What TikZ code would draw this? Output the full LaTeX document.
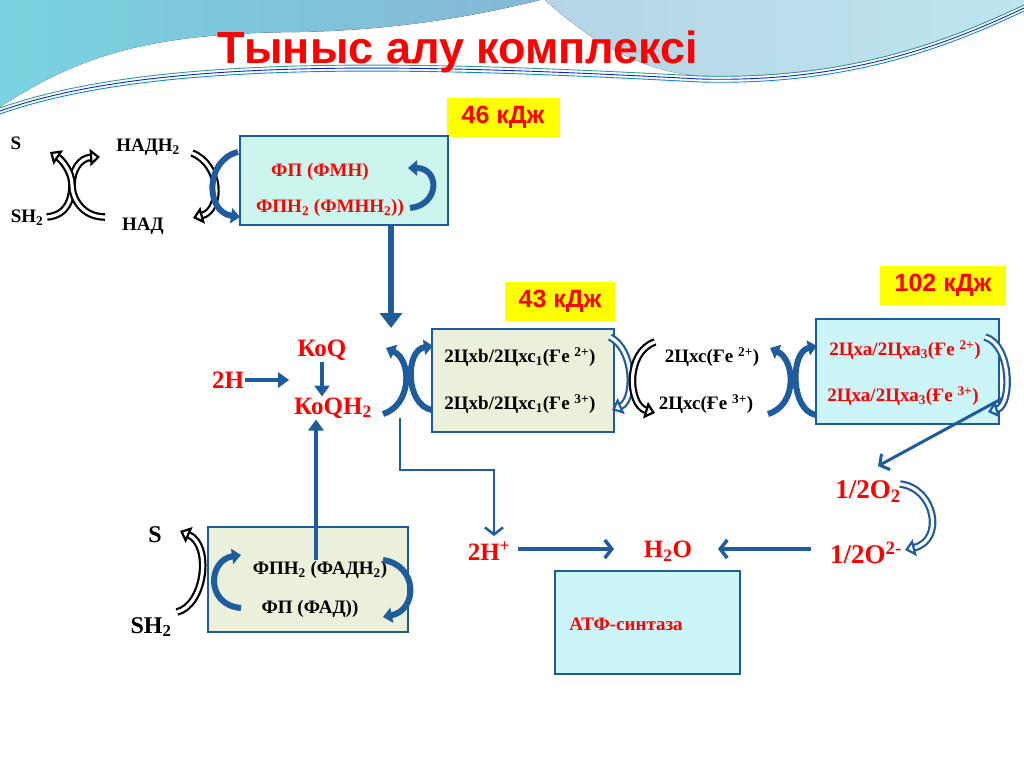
\documentclass[tikz,border=0pt]{standalone}
\usepackage{fontspec}
\setmainfont{Liberation Serif}
\setsansfont{Liberation Sans}
\usetikzlibrary{arrows.meta}
\definecolor{arrblue}{HTML}{1F5C9E}
\definecolor{boxblue}{HTML}{1E5A9C}
\definecolor{aquafill}{HTML}{CCF5EE}
\definecolor{skyfill}{HTML}{CCF5FA}
\definecolor{olivefill}{HTML}{EBF0DA}
\definecolor{txtred}{HTML}{FF0000}
\definecolor{kjyellow}{HTML}{FFFF00}
\definecolor{waveA}{HTML}{7AD3E0}
\definecolor{waveB}{HTML}{85B7D4}
\definecolor{waveC}{HTML}{BDE6F0}

\begin{document}
\begin{tikzpicture}[x=1pt, y=-1pt,
  lbl/.style   = {font=\bfseries\fontsize{19}{19}\selectfont, inner sep=1pt},
  redlbl/.style= {lbl, text=txtred},
  bigred/.style= {font=\bfseries\fontsize{25}{25}\selectfont, text=txtred, inner sep=1pt},
  kj/.style    = {fill=kjyellow, text=txtred, font=\sffamily\bfseries\fontsize{25}{25}\selectfont, minimum height=39pt},
  cbox/.style  = {draw=boxblue, line width=2.2pt, inner sep=0pt},
  barr/.style  = {draw=arrblue, line width=3.5pt, -{Triangle[length=11pt,width=15pt]}},
  barb/.style  = {draw=arrblue, line width=3.5pt, -{Straight Barb[length=7pt,width=18pt]}},
  fatarr/.style= {draw=arrblue, line width=6pt, -{Triangle[length=15pt,width=22pt]}},
  curv/.style  = {draw=arrblue, line width=6pt, -{Triangle[length=9pt,width=15pt]}},
  hollow/.style= {draw=black, double=white, line width=2.2pt, double distance=3.2pt,
                  -{Triangle[open,length=10pt,width=17pt]}},
  bhollow/.style={hollow, draw=arrblue},
]
  % background
  \useasboundingbox (0,0) rectangle (1024,768);
  \fill[white] (0,0) rectangle (1024,768);
  \fill[left color=waveA, right color=waveB] (0,0) -- (540,0) .. controls (480,15) and (400,30) .. (300,32)
        .. controls (150,33) and (80,55) .. (0,107) -- cycle;
  \fill[left color=waveB!60!white, right color=waveC] (545,0) .. controls (600,50) and (650,72) .. (700,76)
        .. controls (850,80) and (950,40) .. (1024,5) -- (1024,0) -- cycle;
  \foreach \d/\c in {0/teal!80, 3/blue!70!teal, 6/cyan!70!blue} {
    \draw[\c, line width=0.9pt] (0,108+\d) .. controls (150,55+\d) and (400,60+\d) .. (700,76+\d)
          .. controls (850,80+\d) and (950,40+\d) .. (1024,5+\d);
  }

  \node[font=\sffamily\bfseries\fontsize{45}{45}\selectfont, text=txtred] (title) at (458,52) {Тыныс алу комплексі};

  \node[kj, minimum width=113pt] (kj46)  at (503,117) {46 кДж};
  \node[kj, minimum width=110pt] (kj43)  at (560,301) {43 кДж};
  \node[kj, minimum width=126pt] (kj102) at (943,285) {102 кДж};

  % flavoprotein (FMN)
  \node[lbl] (s1)    at (16,143)  {S};
  \node[lbl] (sh1)   at (27,218)  {SH\textsubscript{2}};
  \node[lbl] (nadh)  at (148,147) {НАДН\textsubscript{2}};
  \node[lbl] (nad)   at (143,226) {НАД};
  \node[cbox, fill=aquafill, minimum width=208pt, minimum height=89pt] (fmnbox) at (344,180.5) {};
  \node[redlbl] (fmn)  at (320,172) {ФП (ФМН)};
  \node[redlbl] (fmnh) at (330,208) {ФПН\textsubscript{2} (ФМНН\textsubscript{2}))};

  % ubiquinone
  \node[bigred] (koq)   at (322,350) {КоQ};
  \node[bigred] (koqh)  at (333,408) {КоQН\textsubscript{2}};
  \node[bigred] (h2)    at (228,380) {2Н};

  % cytochromes
  \node[cbox, fill=olivefill, minimum width=182pt, minimum height=103pt] (cbbox) at (523,380.5) {};
  \node[lbl] (cb2) at (520,357) {2Цхb/2Цхс\textsubscript{1}(Ғe \textsuperscript{2+})};
  \node[lbl] (cb3) at (520,404) {2Цхb/2Цхс\textsubscript{1}(Ғe \textsuperscript{3+})};
  \node[lbl] (cc2) at (712,357) {2Цхс(Ғe \textsuperscript{2+})};
  \node[lbl] (cc3) at (706,404) {2Цхс(Ғe \textsuperscript{3+})};
  \node[cbox, fill=skyfill, minimum width=183pt, minimum height=105pt] (cabox) at (907.5,371.5) {};
  \node[redlbl] (ca2) at (905,350) {2Цха/2Цха\textsubscript{3}(Ғe \textsuperscript{2+})};
  \node[redlbl] (ca3) at (903,396) {2Цха/2Цха\textsubscript{3}(Ғe \textsuperscript{3+})};

  % flavoprotein (FAD)
  \node[cbox, fill=olivefill, minimum width=200pt, minimum height=105pt] (fadbox) at (308,579.5) {};
  \node[lbl] (fadh) at (320,570) {ФПН\textsubscript{2} (ФАДН\textsubscript{2})};
  \node[lbl] (fad)  at (310,609) {ФП (ФАД))};
  \node[lbl, font=\bfseries\fontsize{24}{24}\selectfont] (s2)  at (155,535) {S};
  \node[lbl, font=\bfseries\fontsize{24}{24}\selectfont] (sh2) at (151,627) {SH\textsubscript{2}};

  % oxygen and water
  \node[bigred, font=\bfseries\fontsize{27}{27}\selectfont] (o2)  at (868,492) {1/2O\textsubscript{2}};
  \node[bigred, font=\bfseries\fontsize{27}{27}\selectfont] (o2m) at (866,553) {1/2O\textsuperscript{2-}};
  \node[bigred] (hplus) at (489,551) {2Н\textsuperscript{+}};
  \node[bigred] (water) at (668,551) {Н\textsubscript{2}О};
  \node[cbox, fill=skyfill, minimum width=185pt, minimum height=103pt] (atpbox) at (647.5,622.5) {};
  \node[redlbl, font=\bfseries\fontsize{19}{19}\selectfont] (atp) at (626,624) {АТФ-синтаза};

  \coordinate (fmnout) at (391,225);
  \coordinate (qin)    at (391,328);
  \coordinate (fadout) at (316,560);
  \coordinate (cbout)  at (400,418);
  \coordinate (caout)  at (1003,398);
  \coordinate (o2in)   at (878,466);

  % straight connectors
  \draw[fatarr] (fmnout) -- (qin);
  \draw[barr] (h2.east) -- ++(44,0);
  \draw[barr] (koq.south) -- (koq.south |- koqh.north);
  \draw[barr] (fadout) -- (fadout |- koqh.south);
  \draw[barb, line width=2.5pt] (cbout) |- (494,470) -- (494,536);
  \draw[barb, shorten <=7pt] (hplus.east |- 0,549) -- (614,549);
  \draw[barb, shorten <=18pt] (o2m.west |- 0,549) -- (718,549);
  \draw[barb, line width=3pt] (caout) -- (o2in);

  % curved arrows
  \draw[hollow] (47,217) .. controls (68,215) and (72,198) .. (72,185) .. controls (72,170) and (80,158) .. (100,157);
  \draw[hollow] (105,217) .. controls (82,217) and (72,198) .. (72,185) .. controls (72,172) and (62,160) .. (50,152);
  \draw[hollow] (192,153) .. controls (222,165) and (222,210) .. (193,218);
  \draw[curv] (238,152) .. controls (205,160) and (205,212) .. (240,217);
  \draw[curv] (410,208) .. controls (440,205) and (440,168) .. (408,168);

  \draw[curv] (383,414) .. controls (412,405) and (412,360) .. (386,348);
  \draw[curv] (432,410) .. controls (405,405) and (405,350) .. (433,346);
  \draw[bhollow] (610,337) .. controls (635,350) and (635,400) .. (612,410);
  \draw[hollow] (655,342) .. controls (625,352) and (628,405) .. (655,413);
  \draw[curv] (768,414) .. controls (798,405) and (795,360) .. (770,348);
  \draw[curv] (816,415) .. controls (790,410) and (790,352) .. (817,346);
  \draw[bhollow] (985,337) .. controls (1012,345) and (1012,405) .. (988,412);
  \draw[bhollow] (900,484) .. controls (935,488) and (945,540) .. (905,550);

  \draw[hollow] (177,612) .. controls (205,605) and (212,545) .. (180,531);
  \draw[curv] (241,608) .. controls (205,605) and (208,560) .. (241,555);
  \draw[curv] (383,560) .. controls (418,565) and (418,610) .. (383,617);
\end{tikzpicture}
\end{document}
